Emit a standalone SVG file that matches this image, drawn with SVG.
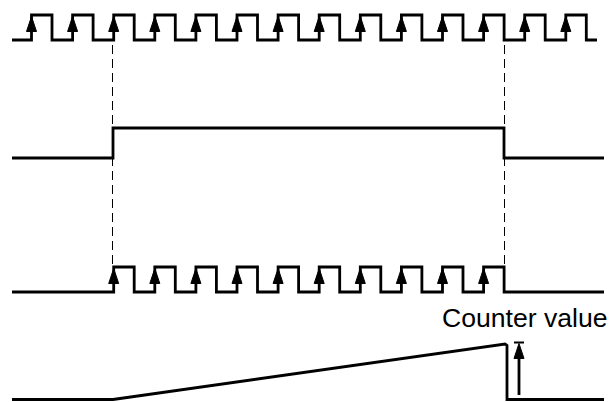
<svg xmlns="http://www.w3.org/2000/svg" xmlns:xlink="http://www.w3.org/1999/xlink" width="611" height="402" viewBox="0 0 611 402">
<style>
.sig{fill:none;stroke:#000;stroke-width:2.8;stroke-linejoin:miter;stroke-linecap:butt}
.dash{fill:none;stroke:#000;stroke-width:1;stroke-dasharray:9,5}
.ah{fill:#000;stroke:#000;stroke-width:1;stroke-linejoin:miter}
.lbl{font-family:"Liberation Sans",Arial,sans-serif;font-size:26.6px;fill:#000}
</style>
<defs>
<path id="ah" class="ah" d="M0,0.5 L5,15.5 L-5,15.5 Z"/>
</defs>
<rect width="611" height="402" fill="#fff"/>
<g id="guides">
<line class="dash" x1="112.5" y1="45" x2="112.5" y2="268"/>
<line class="dash" x1="504.5" y1="45" x2="504.5" y2="268"/>
</g>
<g id="clock">
<path class="sig" d="M12,40 H31.5 V15 H52 V40 H72.6 V15 H93.1 V40 H113.7 V15 H134.2 V40 H154.8 V15 H175.3 V40 H195.9 V15 H216.4 V40 H237 V15 H257.5 V40 H278.1 V15 H298.6 V40 H319.2 V15 H339.7 V40 H360.3 V15 H380.8 V40 H401.4 V15 H421.9 V40 H442.5 V15 H463 V40 H483.6 V15 H504.1 V40 H524.7 V15 H545.2 V40 H565.8 V15 H586.3 V40 H597"/>
<use xlink:href="#ah" x="31.5" y="16"/>
<use xlink:href="#ah" x="72.6" y="16"/>
<use xlink:href="#ah" x="113.7" y="16"/>
<use xlink:href="#ah" x="154.8" y="16"/>
<use xlink:href="#ah" x="195.9" y="16"/>
<use xlink:href="#ah" x="237" y="16"/>
<use xlink:href="#ah" x="278.1" y="16"/>
<use xlink:href="#ah" x="319.2" y="16"/>
<use xlink:href="#ah" x="360.3" y="16"/>
<use xlink:href="#ah" x="401.4" y="16"/>
<use xlink:href="#ah" x="442.5" y="16"/>
<use xlink:href="#ah" x="483.6" y="16"/>
<use xlink:href="#ah" x="524.7" y="16"/>
<use xlink:href="#ah" x="565.8" y="16"/>
</g>
<g id="gate">
<path class="sig" d="M12,158 H113 V128 H504 V158 H604"/>
</g>
<g id="gated-clock">
<path class="sig" d="M12,292 H113.7 V267 H134.2 V292 H154.8 V267 H175.3 V292 H195.9 V267 H216.4 V292 H237 V267 H257.5 V292 H278.1 V267 H298.6 V292 H319.2 V267 H339.7 V292 H360.3 V267 H380.8 V292 H401.4 V267 H421.9 V292 H442.5 V267 H463 V292 H483.6 V267 H504.1 V292 H604"/>
<use xlink:href="#ah" x="113.7" y="268"/>
<use xlink:href="#ah" x="154.8" y="268"/>
<use xlink:href="#ah" x="195.9" y="268"/>
<use xlink:href="#ah" x="237" y="268"/>
<use xlink:href="#ah" x="278.1" y="268"/>
<use xlink:href="#ah" x="319.2" y="268"/>
<use xlink:href="#ah" x="360.3" y="268"/>
<use xlink:href="#ah" x="401.4" y="268"/>
<use xlink:href="#ah" x="442.5" y="268"/>
<use xlink:href="#ah" x="483.6" y="268"/>
</g>
<g id="counter">
<path class="sig" d="M12,399.5 H113 L505,344 L507,345.5 V399.5 H604"/>
<line class="sig" x1="519" y1="395" x2="519" y2="356"/>
<use xlink:href="#ah" x="519" y="343"/>
<line x1="514" y1="342.5" x2="524" y2="342.5" stroke="#000" stroke-width="2"/>
<text class="lbl" x="442" y="327">Counter value</text>
</g>
</svg>
